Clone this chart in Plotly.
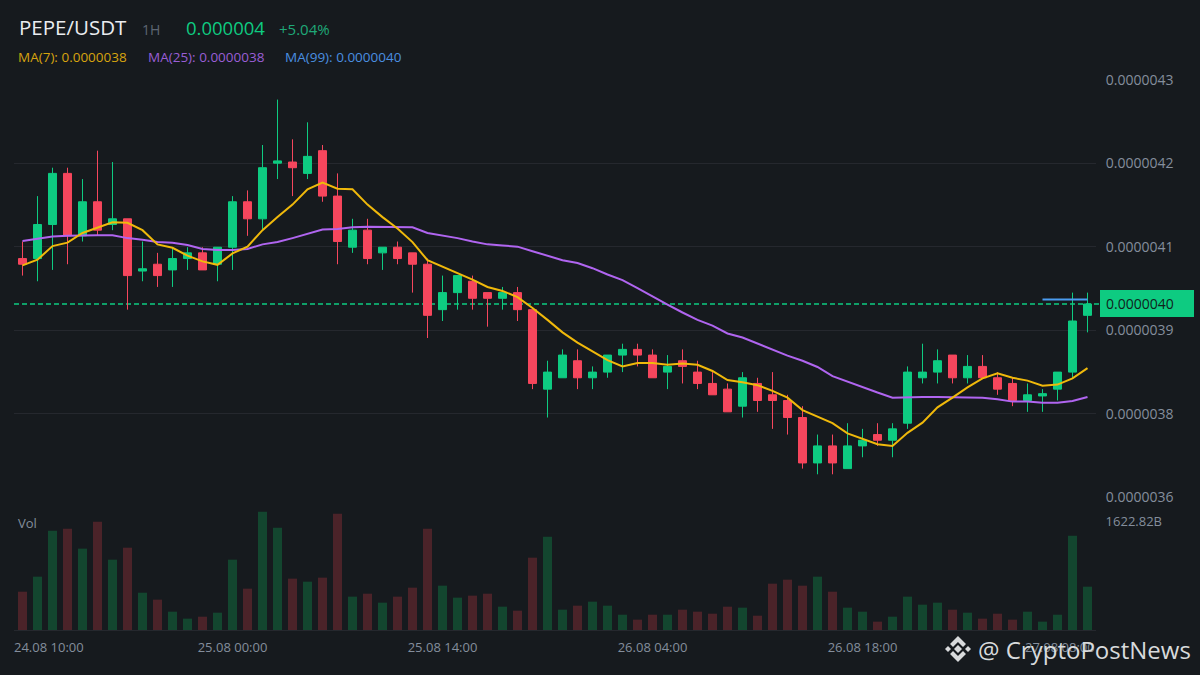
# PEPE/USDT 1H 蜡烛图 + 成交量
import plotly.graph_objects as go

BG = "#161a1e"
GRID = "#25282e"
GREEN = "#0ecb81"
RED = "#f6465d"
GREEN_VOL = "#13462f"
RED_VOL = "#4b2329"
GRAY = "#848e9c"
ORANGE = "#f0b90b"
PURPLE = "#b065f0"
BLUE = "#4a9cf0"

# 价格单位 1e-8
opens = [403, 403, 409, 418, 407, 413, 409, 410, 400.8, 402, 401, 403, 404, 402, 405, 413, 410, 419.8,
         420, 418, 422, 414, 405, 408, 404, 405, 404, 402, 394, 397, 399, 397, 396, 397, 394, 380,
         382, 385, 382, 383, 386, 387, 386, 383, 385, 383, 381, 380, 377, 381, 379, 378, 375, 367,
         370, 366, 370, 372, 371, 374, 382, 383, 386, 382, 384, 382, 381, 378, 378.8, 380, 383, 393]
closes = [402, 409, 418, 407, 413, 408, 410, 400, 401.2, 400, 403, 404, 401, 405, 413, 410, 419, 420.2,
          419, 421, 414, 406, 408, 403, 405, 403, 402, 393, 397, 400, 396, 396, 397, 394, 381, 383,
          386, 382, 383, 386, 387, 386, 382, 384, 384, 381, 379, 376, 382, 378, 378, 375, 367, 370,
          367, 370, 371, 371, 373, 383, 383, 385, 382, 384, 382, 380, 378, 379, 379.2, 383, 392, 395]
highs = [406, 414, 419, 419, 417, 422, 420, 410, 406, 404, 405, 405, 405, 405, 414, 415, 423, 431,
         424, 427, 423, 418, 410, 410, 405, 406, 404, 403, 400, 400, 400, 397, 398, 398, 394, 385,
         387, 387, 384, 386, 388, 388, 387, 386, 387, 385, 383, 381, 383, 382, 383, 379, 377, 372,
         372, 374, 373, 374, 374, 384, 388, 387, 386, 386, 386, 383, 382, 381, 380, 383, 397, 397]
lows = [400, 399, 401, 402, 406, 407, 408, 394, 399, 398, 398, 401, 401, 399, 401, 407, 408, 417,
        414, 417, 413, 402, 404, 402, 401, 402, 397, 389, 392, 394, 394, 391, 394, 392, 380, 375,
        382, 380, 380, 382, 383, 384, 382, 380, 381, 380, 379, 376, 375, 376, 373, 372, 366, 365,
        365, 366, 368, 370, 368, 373, 381, 381, 381, 381, 382, 379, 377, 376, 376, 378, 382, 390]
volumes = [573, 798, 1486, 1516, 1217, 1620, 1052, 1231, 558, 454, 274, 170, 199, 259, 1052, 618, 1770, 1531,
           768, 723, 783, 1740, 499, 543, 409, 499, 633, 1516, 663, 484, 514, 543, 349, 289, 1082, 1396,
           304, 364, 424, 364, 229, 155, 229, 229, 304, 274, 244, 349, 334, 214, 693, 753, 663, 798,
           573, 334, 274, 125, 199, 499, 379, 409, 304, 259, 170, 244, 155, 274, 125, 229, 1411, 648]
ma7 = [401.8, 402.8, 405.2, 405.8, 407.5, 408.5, 409.4, 409.3, 408.0, 405.5, 404.9, 403.5, 402.5, 401.9,
       403.9, 405.1, 408.0, 410.3, 412.5, 415.2, 416.4, 415.3, 415.2, 412.5, 410.3, 408.3, 405.9, 402.7,
       401.6, 400.4, 399.3, 398.0, 397.3, 396.2, 394.3, 392.2, 390.0, 388.2, 386.6, 385.1, 384.0, 384.6,
       384.6, 384.3, 384.5, 384.3, 383.2, 381.6, 381.2, 380.7, 379.7, 378.5, 376.3, 375.2, 374.0, 372.2,
       371.3, 370.3, 370.0, 372.3, 374.1, 376.8, 378.5, 380.3, 381.9, 382.8, 382.0, 381.5, 380.6, 380.8,
       381.9, 383.7]
ma25 = [406.1, 406.5, 406.9, 407.0, 407.1, 407.1, 407.1, 406.6, 406.3, 405.9, 405.8, 405.4, 404.7, 404.5,
        404.5, 404.7, 405.5, 405.9, 406.6, 407.4, 408.1, 408.2, 408.5, 408.6, 408.6, 408.6, 408.5, 407.5,
        407.1, 406.6, 406.0, 405.5, 405.3, 405.1, 404.3, 403.5, 402.7, 402.2, 401.3, 400.2, 399.2, 397.8,
        396.3, 394.9, 393.5, 392.2, 391.2, 389.8, 389.1, 388.0, 387.0, 385.9, 385.0, 383.9, 382.3, 381.3,
        380.4, 379.4, 378.5, 378.6, 378.6, 378.6, 378.6, 378.6, 378.5, 378.2, 377.8, 377.8, 377.6, 377.6,
        377.9, 378.6]
ma99 = [395.8, 395.8, 395.8, 395.8]

x_tick_index = [14, 28, 42, 56]
x_tick_labels = ["25.08 00:00", "25.08 14:00", "26.08 04:00", "26.08 18:00"]
first_date = "24.08 10:00"
last_date = "27.08 08:00"
y_tick_values = [434.45, 419.76, 405.07, 390.38, 375.69, 361.0]
y_tick_labels = ["0.0000043", "0.0000042", "0.0000041", "0.0000039", "0.0000038", "0.0000036"]
vol_tick = 1622.82
vol_tick_label = "1622.82B"

W, H = 1200, 675
E8 = 1e-8
xs = list(range(len(opens)))


def px(x):
    return x / W


def py(y):
    return 1 - y / H


def note(x, y, text, size, color, anchor="left", family="Open Sans"):
    fig.add_annotation(xref="paper", yref="paper", x=px(x), y=py(y), text=text, showarrow=False,
                       xanchor=anchor, yanchor="middle", font=dict(size=size, color=color, family=family))


def poly(points):
    return "M" + " L".join(f"{px(a):.5f},{py(b):.5f}" for a, b in points) + " Z"


fig = go.Figure()

fig.add_trace(go.Bar(x=xs, y=volumes, yaxis="y2",
                     marker=dict(color=[GREEN_VOL if c >= o else RED_VOL for o, c in zip(opens, closes)], line_width=0),
                     width=0.6, showlegend=False, hoverinfo="y"))
fig.add_trace(go.Candlestick(x=xs,
                             open=[v * E8 for v in opens], high=[v * E8 for v in highs],
                             low=[v * E8 for v in lows], close=[v * E8 for v in closes],
                             increasing=dict(line=dict(color=GREEN, width=1), fillcolor=GREEN),
                             decreasing=dict(line=dict(color=RED, width=1), fillcolor=RED),
                             whiskerwidth=0, showlegend=False))
fig.add_trace(go.Scatter(x=xs, y=[v * E8 for v in ma25], mode="lines", line=dict(color=PURPLE, width=2), showlegend=False))
fig.add_trace(go.Scatter(x=xs, y=[v * E8 for v in ma7], mode="lines", line=dict(color=ORANGE, width=2), showlegend=False))
fig.add_trace(go.Scatter(x=xs[-len(ma99):], y=[v * E8 for v in ma99], mode="lines", line=dict(color=BLUE, width=2), showlegend=False))

fig.update_layout(
    width=W, height=H, margin=dict(l=0, r=0, t=0, b=0, autoexpand=False),
    paper_bgcolor=BG, plot_bgcolor=BG, boxgap=0.24, bargap=0.4, hovermode=False,
    xaxis=dict(domain=[px(14), px(1096)], range=[-0.567, 71.567], anchor="y2", rangeslider_visible=False,
               automargin=False, tickmode="array", tickvals=x_tick_index, ticktext=x_tick_labels,
               showgrid=False, zeroline=False, showline=True, linecolor=GRID, linewidth=1,
               ticks="outside", ticklen=5, tickcolor=BG,
               tickfont=dict(size=13, color=GRAY, family="Open Sans")),
    yaxis=dict(domain=[py(497), py(80)], range=[y_tick_values[-1] * E8, y_tick_values[0] * E8], side="right",
               anchor="x", automargin=False, tickmode="array", tickvals=[v * E8 for v in y_tick_values], ticktext=y_tick_labels,
               showgrid=True, gridcolor=GRID, gridwidth=1, zeroline=False, showline=False,
               ticks="outside", ticklen=6, tickcolor=BG,
               tickfont=dict(size=14, color=GRAY, family="Open Sans")),
    yaxis2=dict(domain=[py(630), py(505)], range=[0, vol_tick * 125 / 108.5], side="right", anchor="x",
                automargin=False, tickmode="array", tickvals=[vol_tick], ticktext=[vol_tick_label],
                showgrid=False, zeroline=False, showline=False,
                ticks="outside", ticklen=6, tickcolor=BG,
                tickfont=dict(size=13, color=GRAY, family="Open Sans")),
)

# 现价虚线和右侧价格框
fig.add_shape(type="line", xref="paper", yref="y", x0=px(14), x1=px(1100), y0=closes[-1] * E8, y1=closes[-1] * E8,
              line=dict(color=GREEN, width=1.5, dash="5px,3px"), layer="below")
fig.add_shape(type="rect", xref="paper", yref="paper", x0=px(1100), x1=px(1194), y0=py(317), y1=py(290),
              fillcolor=GREEN, line_width=0)
note(1104, 304, "0.0000040", 14, "#10231c")

# 标题和均线图例
note(16.5, 27, "PEPE/USDT", 20.5, "#eaecef")
note(140, 29, "1H", 14, "#5e6673")
note(184, 27, "0.000004", 18.5, GREEN)
note(277, 29, "+5.04%", 15, "#1fa878")
note(16, 57, "MA(7): 0.0000038", 13.5, "#d6a40e")
note(146, 57, "MA(25): 0.0000038", 13.5, "#9a5ed6")
note(283, 57, "MA(99): 0.0000040", 13.5, "#4a8fe0")
note(16, 523, "Vol", 13, GRAY)

# 两端的时间标签贴边显示
note(12, 647, first_date, 13, GRAY)
note(1097, 647, last_date, 13, GRAY, anchor="right")

# 水印
LOGO = "#d8dadc"
cx, cy = 958, 649
logo_parts = [
    [(cx - 4, cy), (cx, cy - 4), (cx + 4, cy), (cx, cy + 4)],
    [(cx - 13, cy), (cx - 10, cy - 3), (cx - 7, cy), (cx - 10, cy + 3)],
    [(cx + 13, cy), (cx + 10, cy - 3), (cx + 7, cy), (cx + 10, cy + 3)],
    [(cx, cy - 13), (cx + 8, cy - 5), (cx + 5, cy - 2), (cx, cy - 7), (cx - 5, cy - 2), (cx - 8, cy - 5)],
    [(cx, cy + 13), (cx + 8, cy + 5), (cx + 5, cy + 2), (cx, cy + 7), (cx - 5, cy + 2), (cx - 8, cy + 5)],
]
for part in logo_parts:
    fig.add_shape(type="path", xref="paper", yref="paper", path=poly(part), fillcolor=LOGO, line_width=0)
note(976, 649, "@ CryptoPostNews", 24, "#d8dadc")

fig.write_html("out.html", config={"displayModeBar": False},
               post_script="document.body.style.margin='0';document.body.style.overflow='hidden';document.body.style.background='#161a1e';")
